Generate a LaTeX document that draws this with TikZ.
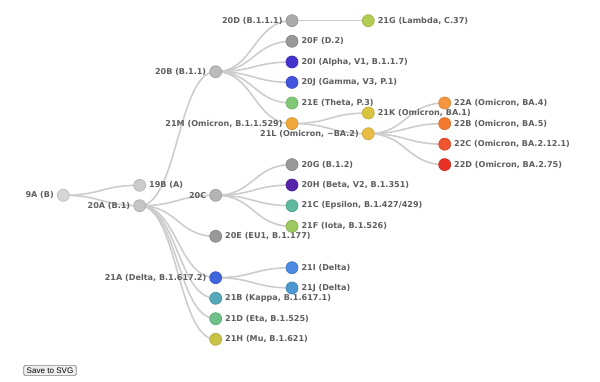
\documentclass[tikz,border=0pt]{standalone}
\usepackage{fontspec}
\setmainfont{DejaVu Sans}
\setsansfont{Liberation Sans}
\usepackage{tikz}
\usetikzlibrary{calc,backgrounds}

\definecolor{linkgray}{HTML}{CCCCCC}
\definecolor{labelgray}{HTML}{5E5E5E}
\definecolor{g9A}{HTML}{D6D6D6}
\definecolor{g19B}{HTML}{CCCCCC}
\definecolor{g20A}{HTML}{C6C6C6}
\definecolor{g20B}{HTML}{BBBBBB}
\definecolor{g20C}{HTML}{B4B4B4}
\definecolor{g20D}{HTML}{AAAAAA}
\definecolor{g20F}{HTML}{999999}
\definecolor{cLambda}{HTML}{B3CC52}
\definecolor{cAlpha}{HTML}{4433CC}
\definecolor{cGamma}{HTML}{4455DD}
\definecolor{cTheta}{HTML}{80C878}
\definecolor{c21M}{HTML}{F0A83A}
\definecolor{c21K}{HTML}{D9C440}
\definecolor{c21L}{HTML}{E8BC45}
\definecolor{c22A}{HTML}{F4973E}
\definecolor{c22B}{HTML}{F47A30}
\definecolor{c22C}{HTML}{F05530}
\definecolor{c22D}{HTML}{E83025}
\definecolor{cBeta}{HTML}{5522AA}
\definecolor{cEpsilon}{HTML}{60B89E}
\definecolor{cIota}{HTML}{9CC960}
\definecolor{cDelta}{HTML}{4466DD}
\definecolor{c21I}{HTML}{4A8AE0}
\definecolor{c21J}{HTML}{4C98D0}
\definecolor{cKappa}{HTML}{54A8B8}
\definecolor{cEta}{HTML}{70C08A}
\definecolor{cMu}{HTML}{C8C246}

\tikzset{
  strain/.style={circle,inner sep=0pt,minimum size=0.24cm,fill=#1,draw=#1!88!black,line width=0.4pt},
  branch/.style={draw=linkgray,line width=0.9pt},
  every label/.style={inner sep=0pt,text=labelgray,font=\bfseries\fontsize{4.6}{5.5}\selectfont},
  label distance=1.6pt
}

\newcommand\branchto[2]{\draw[branch] let \p1=(#1), \p2=(#2), \n1={(\x1+\x2)/2} in (\p1) .. controls (\n1,\y1) and (\n1,\y2) .. (\p2);}

\begin{document}
\begin{tikzpicture}[x=0.02cm,y=-0.02cm]
\useasboundingbox (0,0) rectangle (600,382);

\node[strain=g9A,label=left:{9A (B)}] (n9A) at (63.3,195.3) {};
\node[strain=g19B,label=right:{19B (A)}] (n19B) at (139.7,185.3) {};
\node[strain=g20A,label=left:{20A (B.1)}] (n20A) at (139.7,205.7) {};

\node[strain=g20B,label=left:{20B (B.1.1)}] (n20B) at (215.7,71.7) {};
\node[strain=g20C,label=left:{20C}] (n20C) at (215.7,195.3) {};
\node[strain=g20F,label=right:{20E (EU1, B.1.177)}] (n20E) at (215.7,236.3) {};
\node[strain=cDelta,label=left:{21A (Delta, B.1.617.2)}] (n21A) at (215.7,277.7) {};
\node[strain=cKappa,label=right:{21B (Kappa, B.1.617.1)}] (n21B) at (215.7,298.3) {};
\node[strain=cEta,label=right:{21D (Eta, B.1.525)}] (n21D) at (215.7,318.7) {};
\node[strain=cMu,label=right:{21H (Mu, B.1.621)}] (n21H) at (215.7,339.3) {};

\node[strain=g20D,label=left:{20D (B.1.1.1)}] (n20D) at (292,20.7) {};
\node[strain=g20F,label=right:{20F (D.2)}] (n20F) at (292,41.3) {};
\node[strain=cAlpha,label=right:{20I (Alpha, V1, B.1.1.7)}] (n20I) at (292,62) {};
\node[strain=cGamma,label=right:{20J (Gamma, V3, P.1)}] (n20J) at (292,82.4) {};
\node[strain=cTheta,label=right:{21E (Theta, P.3)}] (n21E) at (292,103) {};
\node[strain=c21M,label=left:{21M (Omicron, B.1.1.529)}] (n21M) at (292,123.6) {};
\node[strain=g20F,label=right:{20G (B.1.2)}] (n20G) at (292,164.6) {};
\node[strain=cBeta,label=right:{20H (Beta, V2, B.1.351)}] (n20H) at (292,185) {};
\node[strain=cEpsilon,label=right:{21C (Epsilon, B.1.427/429)}] (n21C) at (292,205.7) {};
\node[strain=cIota,label=right:{21F (Iota, B.1.526)}] (n21F) at (292,226.3) {};
\node[strain=c21I,label=right:{21I (Delta)}] (n21I) at (292,267.7) {};
\node[strain=c21J,label=right:{21J (Delta)}] (n21J) at (292,288) {};

\node[strain=cLambda,label=right:{21G (Lambda, C.37)}] (n21G) at (368.3,20.7) {};
\node[strain=c21K,label=right:{21K (Omicron, BA.1)}] (n21K) at (368.3,113) {};
\node[strain=c21L,label=left:{21L (Omicron, \textasciitilde BA.2)}] (n21L) at (368.3,133.7) {};

\node[strain=c22A,label=right:{22A (Omicron, BA.4)}] (n22A) at (444.7,103) {};
\node[strain=c22B,label=right:{22B (Omicron, BA.5)}] (n22B) at (444.7,123.6) {};
\node[strain=c22C,label=right:{22C (Omicron, BA.2.12.1)}] (n22C) at (444.7,144.2) {};
\node[strain=c22D,label=right:{22D (Omicron, BA.2.75)}] (n22D) at (444.7,164.6) {};

\node[draw=gray,fill=black!6,rounded corners=0.8pt,inner xsep=1.6pt,inner ysep=1.3pt,font=\sffamily\fontsize{4.6}{5}\selectfont] (save) at (50,370.5) {Save to SVG};

\begin{scope}[on background layer]
    \branchto{n9A}{n19B}
    \branchto{n9A}{n20A}
    \foreach \c in {n20B,n20C,n20E,n21A,n21B,n21D,n21H}
        {\branchto{n20A}{\c}}
    \foreach \c in {n20D,n20F,n20I,n20J,n21E,n21M}
        {\branchto{n20B}{\c}}
    \branchto{n20D}{n21G}
    \branchto{n21M}{n21K}
    \branchto{n21M}{n21L}
    \foreach \c in {n22A,n22B,n22C,n22D}
        {\branchto{n21L}{\c}}
    \foreach \c in {n20G,n20H,n21C,n21F}
        {\branchto{n20C}{\c}}
    \branchto{n21A}{n21I}
    \branchto{n21A}{n21J}
\end{scope}

\end{tikzpicture}
\end{document}
